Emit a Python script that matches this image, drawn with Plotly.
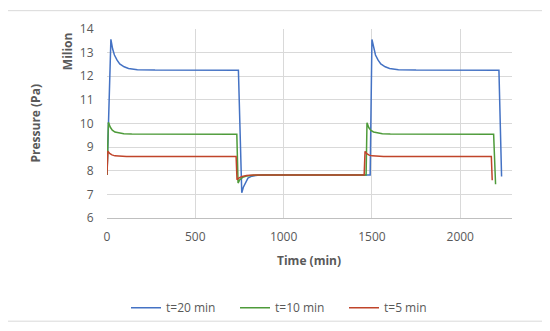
import plotly.graph_objects as go

# t=20 min series
t20_x = [0, 22, 32, 42, 57, 72, 97, 122, 172, 272, 744, 763, 772, 782, 798, 820, 853, 900,
         1490, 1500, 1510, 1520, 1535, 1550, 1575, 1600, 1650, 1750, 2219, 2234]
t20_y = [7.82, 13.56, 13.15, 12.9, 12.68, 12.52, 12.4, 12.33, 12.28, 12.26, 12.25, 7.07, 7.3, 7.48, 7.69, 7.77, 7.81, 7.82,
         7.82, 13.56, 13.15, 12.9, 12.68, 12.52, 12.4, 12.33, 12.28, 12.26, 12.25, 7.76]

# t=10 min series
t10_x = [0, 8, 18, 30, 45, 65, 95, 140, 220, 735, 742, 752, 768, 790, 830, 880,
         1467, 1472, 1482, 1494, 1509, 1529, 1559, 1604, 1684, 2189, 2200]
t10_y = [7.82, 10.05, 9.85, 9.72, 9.64, 9.6, 9.57, 9.56, 9.555, 9.55, 7.48, 7.62, 7.72, 7.78, 7.81, 7.82,
         7.82, 10.03, 9.83, 9.71, 9.64, 9.6, 9.57, 9.56, 9.555, 9.55, 7.43]

# t=5 min series
t5_x = [0, 5, 15, 28, 45, 70, 110, 180, 731, 736, 748, 765, 790, 830, 880,
        1456, 1461, 1471, 1484, 1501, 1526, 1566, 1636, 2176, 2181]
t5_y = [7.82, 8.83, 8.73, 8.67, 8.63, 8.61, 8.605, 8.6, 8.6, 7.62, 7.7, 7.76, 7.8, 7.815, 7.82,
        7.82, 8.82, 8.72, 8.66, 8.63, 8.61, 8.605, 8.6, 8.6, 7.6]

series_names = ["t=20 min", "t=10 min", "t=5 min"]
series_colors = ["#4472C4", "#4E9B3A", "#C0442A"]

x_ticks = [0, 500, 1000, 1500, 2000]
y_ticks = [6, 7, 8, 9, 10, 11, 12, 13, 14]

# page body has an 8px margin: work in screen pixels and convert
OFF = 8
W, H = 550, 331
SL, SR, ST, SB = 107, 512, 22, 218  # plot area in screen pixels
L, T = SL - OFF, ST - OFF
R, B = W - (SR - OFF), H - (SB - OFF)
pw, ph = SR - SL, SB - ST

def px(x):
    return (x - SL) / pw

def py(y):
    return (SB - y) / ph

fig = go.Figure()
for xs, ys, name, col in zip([t20_x, t10_x, t5_x], [t20_y, t10_y, t5_y], series_names, series_colors):
    fig.add_trace(go.Scatter(x=xs, y=ys, mode="lines", name=name,
                             line=dict(color=col, width=1.5)))

font_fam = "Open Sans, Liberation Sans, sans-serif"
tick_col = "#595959"

fig.update_layout(
    width=W, height=H,
    margin=dict(l=L, r=R, t=T, b=B),
    paper_bgcolor="white", plot_bgcolor="white",
    font=dict(family=font_fam, size=12, color=tick_col),
    showlegend=True,
    legend=dict(orientation="h", x=0.5 - 20 / pw, xanchor="center", y=py(311), yanchor="middle",
                font=dict(size=12, color=tick_col), entrywidth=64, itemwidth=30,
                bgcolor="rgba(0,0,0,0)"),
    xaxis=dict(range=[0, 2293], tickvals=x_ticks, showgrid=True, gridcolor="#D9D9D9", gridwidth=1,
               zeroline=False, showline=True, linecolor="#BFBFBF", linewidth=1,
               ticks="outside", ticklen=8, tickcolor="rgba(0,0,0,0)",
               tickfont=dict(size=12, color=tick_col)),
    yaxis=dict(range=[6, 14], tickvals=y_ticks, showgrid=True, gridcolor="#D9D9D9", gridwidth=1,
               zeroline=False, showline=False,
               ticks="outside", ticklen=10, tickcolor="rgba(0,0,0,0)",
               tickfont=dict(size=12, color=tick_col)),
)

fig.add_annotation(text="<b>Milion</b>", textangle=-90, xref="paper", yref="paper",
                   x=px(67), y=py(45), xanchor="center", yanchor="middle",
                   showarrow=False, font=dict(size=12, color=tick_col))
fig.add_annotation(text="<b>Pressure (Pa)</b>", textangle=-90, xref="paper", yref="paper",
                   x=px(35), y=py(120), xanchor="center", yanchor="middle",
                   showarrow=False, font=dict(size=12, color=tick_col))
fig.add_annotation(text="<b>Time (min)</b>", xref="paper", yref="paper",
                   x=px(309), y=py(262), xanchor="center", yanchor="middle",
                   showarrow=False, font=dict(size=12, color=tick_col))

fig.add_shape(type="rect", xref="paper", yref="paper",
              x0=px(5), x1=px(545), y0=py(325), y1=py(3),
              line=dict(color="#D9D9D9", width=1), fillcolor="rgba(0,0,0,0)", layer="below")

fig.write_html("out.html")
